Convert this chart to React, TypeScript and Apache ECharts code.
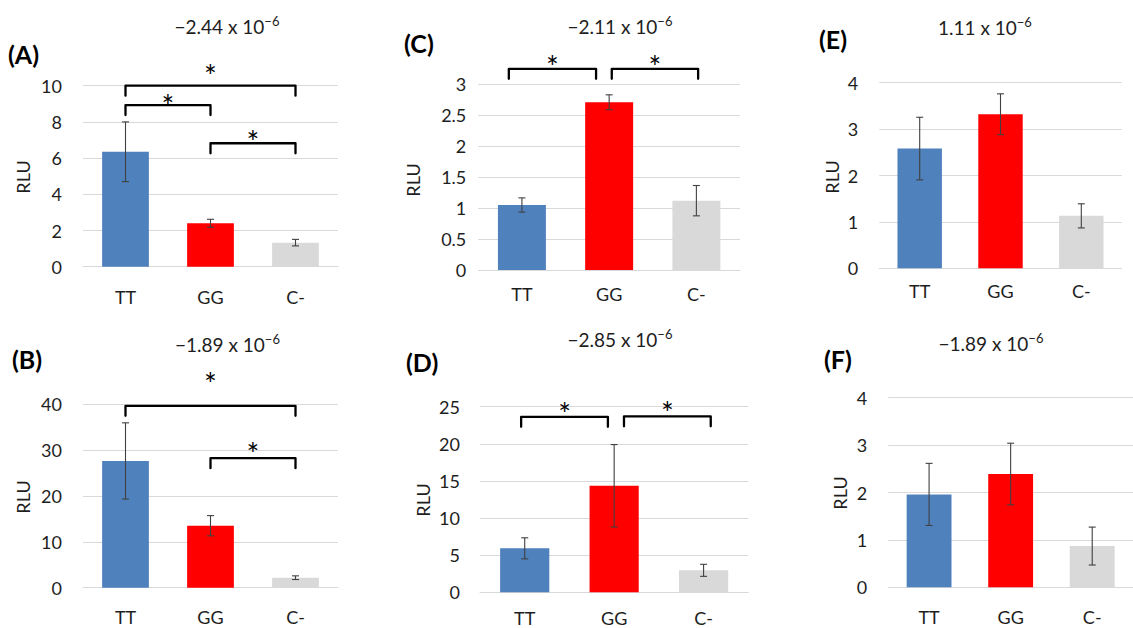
import { useEffect, useRef } from 'react';
import * as echarts from 'echarts';

const categories = ['TT', 'GG', 'C-'];
const barColors = ['#4f81bd', '#ff0000', '#d9d9d9'];

// values and error (±) per panel
const valuesA = [6.35, 2.4, 1.33];
const errorsA = [1.65, 0.22, 0.18];
const valuesB = [27.6, 13.5, 2.18];
const errorsB = [8.3, 2.2, 0.4];
const valuesC = [1.05, 2.71, 1.12];
const errorsC = [0.115, 0.12, 0.245];
const valuesD = [5.92, 14.35, 2.96];
const errorsD = [1.42, 5.55, 0.81];
const valuesE = [2.58, 3.32, 1.13];
const errorsE = [0.675, 0.44, 0.26];
const valuesF = [1.96, 2.39, 0.87];
const errorsF = [0.655, 0.65, 0.4];

// significance brackets: [fromCategory, toCategory, bracketY, starY]
const bracketsA = [[0, 2, 10.0, 11.05], [0, 1, 8.93, 9.39], [1, 2, 6.82, 7.4]];
const bracketsB = [[0, 2, 39.6, 46.3], [1, 2, 28.2, 31.1]];
const bracketsC = [[-0.15, 0.85, 3.25, 3.42], [1.03, 2.02, 3.25, 3.42]];
const bracketsD = [[-0.04, 0.93, 23.64, 25.2], [1.11, 2.08, 23.7, 25.3]];
const bracketsE: number[][] = [];
const bracketsF: number[][] = [];

// p-value titles: [mantissa text, exponent]
const titleA = ['−2.44 x 10', '−6'];
const titleB = ['−1.89 x 10', '−6'];
const titleC = ['−2.11 x 10', '−6'];
const titleD = ['−2.85 x 10', '−6'];
const titleE = ['1.11 x 10', '−6'];
const titleF = ['−1.89 x 10', '−6'];

const yMax = [10, 40, 3, 25, 4, 4];
const yStep = [2, 10, 0.5, 5, 1, 1];
const letters = ['(A)', '(B)', '(C)', '(D)', '(E)', '(F)'];

const FONT = 'Lato, "Open Sans", sans-serif';
const TXT = '#1e1e1e';

const panels = [
  { v: valuesA, e: errorsA, b: bracketsA, t: titleA,
    grid: { left: 83, top: 85.7, width: 255, height: 181 }, xm: 21, ym: 21,
    title: [227, 26], letter: [8, 54], rlu: [23, 177] },
  { v: valuesB, e: errorsB, b: bracketsB, t: titleB,
    grid: { left: 83, top: 404, width: 255, height: 183.7 }, xm: 20, ym: 21,
    title: [227.5, 344], letter: [12, 359], rlu: [23, 497] },
  { v: valuesC, e: errorsC, b: bracketsC, t: titleC,
    grid: { left: 478.3, top: 84.3, width: 261.7, height: 185.7 }, xm: 15, ym: 12,
    title: [620, 26], letter: [404, 43], rlu: [412.5, 180] },
  { v: valuesD, e: errorsD, b: bracketsD, t: titleD,
    grid: { left: 480, top: 406.7, width: 268.3, height: 185.6 }, xm: 17, ym: 20,
    title: [620, 339], letter: [406, 362], rlu: [423, 500] },
  { v: valuesE, e: errorsE, b: bracketsE, t: titleE,
    grid: { left: 879.3, top: 82.7, width: 242.4, height: 185.6 }, xm: 13.5, ym: 21,
    title: [985, 27], letter: [819, 39], rlu: [832, 177] },
  { v: valuesF, e: errorsF, b: bracketsF, t: titleF,
    grid: { left: 888.3, top: 397.7, width: 253.8, height: 189.6 }, xm: 20.5, ym: 21,
    title: [991, 343], letter: [824, 359], rlu: [840, 493] },
];

const DROP = 10;
const STAR_OFFSET = 8;

export default function App() {
  const ref = useRef<HTMLDivElement>(null);
  useEffect(() => {
    if (!ref.current) return;
    const chart = echarts.init(ref.current, undefined, { renderer: 'svg' });
    const grid: any[] = [];
    const xAxis: any[] = [];
    const yAxis: any[] = [];
    const series: any[] = [];
    const graphic: any[] = [];

    panels.forEach((p, k) => {
      grid.push({ ...p.grid, containLabel: false });
      xAxis.push({
        type: 'category', gridIndex: k, data: categories,
        axisLine: { lineStyle: { color: '#d9d9d9', width: 1 } },
        axisTick: { show: false },
        axisLabel: { interval: 0, fontSize: 18, color: TXT, fontFamily: FONT, margin: p.xm },
      });
      yAxis.push({
        type: 'value', gridIndex: k, min: 0, max: yMax[k], interval: yStep[k],
        axisLine: { show: false }, axisTick: { show: false },
        splitLine: { lineStyle: { color: '#d9d9d9', width: 1 } },
        axisLabel: { fontSize: 18, color: TXT, fontFamily: FONT, margin: p.ym },
      });
      series.push({
        type: 'bar', xAxisIndex: k, yAxisIndex: k, barWidth: '55%',
        data: p.v.map((v, i) => ({ value: v, itemStyle: { color: barColors[i] } })),
      });
      series.push({
        type: 'custom', xAxisIndex: k, yAxisIndex: k, clip: false, z: 5,
        data: p.v.map((v, i) => [i, v, p.e[i]]),
        encode: { x: 0, y: 1 },
        renderItem: (_params: any, api: any) => {
          const i = api.value(0);
          const v = api.value(1);
          const e = api.value(2);
          const top = api.coord([i, v + e]);
          const bot = api.coord([i, v - e]);
          const st = { stroke: '#404040', lineWidth: 1.1, fill: 'none' };
          return {
            type: 'group',
            children: [
              { type: 'line', shape: { x1: top[0], y1: top[1], x2: bot[0], y2: bot[1] }, style: st },
              { type: 'line', shape: { x1: top[0] - 3.5, y1: top[1], x2: top[0] + 3.5, y2: top[1] }, style: st },
              { type: 'line', shape: { x1: bot[0] - 3.5, y1: bot[1], x2: bot[0] + 3.5, y2: bot[1] }, style: st },
            ],
          };
        },
      });
      if (p.b.length) {
        const br = p.b;
        series.push({
          type: 'custom', xAxisIndex: k, yAxisIndex: k, clip: false, z: 6,
          data: br.map((b) => [0, b[2]]),
          encode: { x: 0, y: 1 },
          renderItem: (params: any, api: any) => {
            const b = br[params.dataIndex];
            const p0 = api.coord([0, b[2]]);
            const p1 = api.coord([1, b[2]]);
            const step = p1[0] - p0[0];
            const xa = p0[0] + b[0] * step;
            const xb = p0[0] + b[1] * step;
            const y = p0[1];
            const ys = api.coord([0, b[3]])[1];
            return {
              type: 'group',
              children: [
                {
                  type: 'polyline',
                  shape: { points: [[xa, y + DROP], [xa, y], [xb, y], [xb, y + DROP]] },
                  style: { stroke: '#000', lineWidth: 2.3, fill: 'none', lineJoin: 'round', lineCap: 'round' },
                },
                {
                  type: 'text',
                  style: {
                    text: '*', x: (xa + xb) / 2, y: ys + STAR_OFFSET, align: 'center', verticalAlign: 'middle',
                    fontSize: 30, fontFamily: FONT, fill: '#000',
                  },
                },
              ],
            };
          },
        });
      }
      graphic.push({
        type: 'text', x: p.title[0], y: p.title[1],
        style: {
          text: `{m|${p.t[0]}}{s|${p.t[1]}}`,
          align: 'center', verticalAlign: 'middle',
          rich: {
            m: { fontSize: 19, lineHeight: 24, fontFamily: FONT, fill: TXT, color: TXT },
            s: { fontSize: 13, lineHeight: 14, verticalAlign: 'top', fontFamily: FONT, fill: TXT, color: TXT },
          },
        },
      });
      graphic.push({
        type: 'text', x: p.letter[0], y: p.letter[1],
        style: {
          text: letters[k], align: 'left', verticalAlign: 'middle',
          fontSize: 25, fontWeight: 'bold', fontFamily: FONT, fill: '#000',
        },
      });
      graphic.push({
        type: 'text', x: p.rlu[0], y: p.rlu[1], rotation: Math.PI / 2,
        style: {
          text: 'RLU', align: 'center', verticalAlign: 'middle',
          fontSize: 18, fontFamily: FONT, fill: TXT,
        },
      });
    });

    chart.setOption({
      animation: false,
      backgroundColor: '#ffffff',
      textStyle: { fontFamily: FONT },
      grid, xAxis, yAxis, series, graphic,
    });
    return () => chart.dispose();
  }, []);
  return (
    <div
      ref={ref}
      style={{ position: 'absolute', left: 0, top: 0, width: 1133, height: 628 }}
    />
  );
}
